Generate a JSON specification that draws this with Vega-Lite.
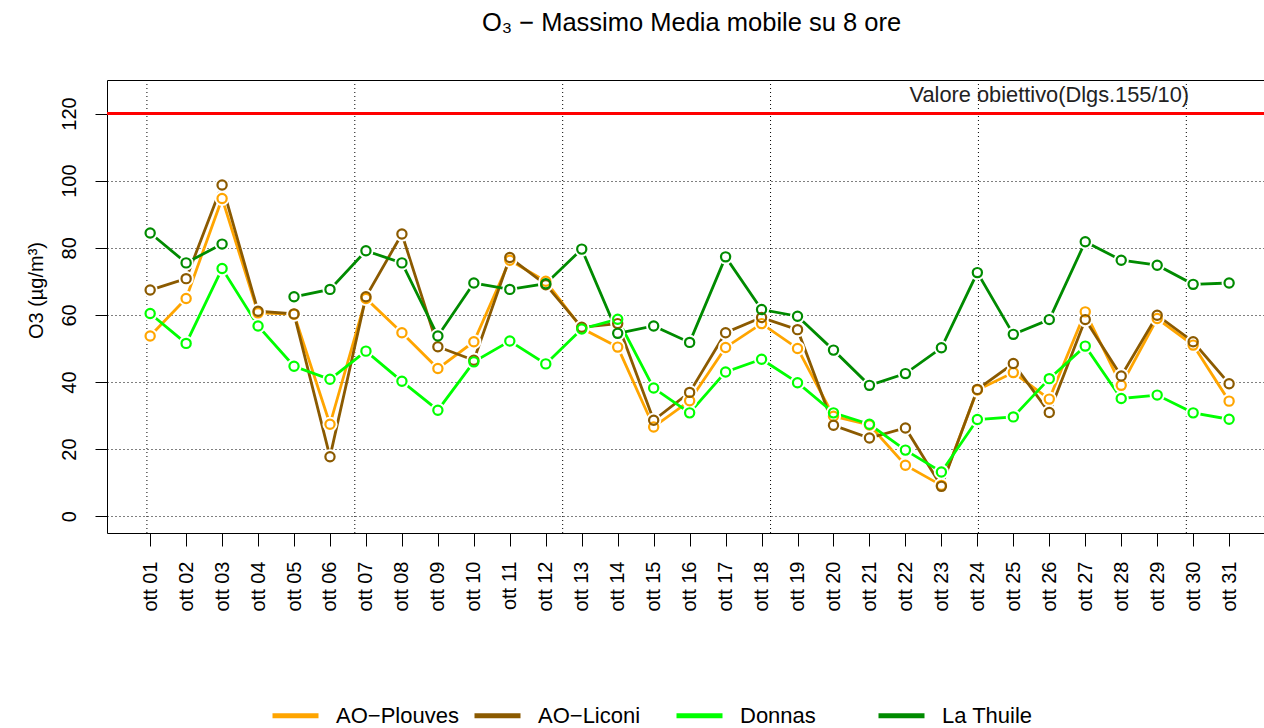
{
  "$schema": "https://vega.github.io/schema/vega-lite/v6.json",
  "autosize": "none",
  "width": 1157,
  "height": 453,
  "padding": {"left": 107, "top": 80, "right": 0, "bottom": 195},
  "background": "white",
  "title": {"text": "O₃ − Massimo Media mobile su 8 ore", "fontSize": 25.5, "font": "Liberation Sans", "fontWeight": "normal", "color": "black", "anchor": "middle", "frame": "group", "baseline": "alphabetic", "offset": 23, "dx": 6},
  "config": {"font": "Liberation Sans", "view": {"stroke": "black", "strokeWidth": 1}},
  "datasets": {
    "o3": [
      {"day":1,"station":"AO-Plouves","value":53.7},{"day":2,"station":"AO-Plouves","value":64.9},{"day":3,"station":"AO-Plouves","value":94.7},{"day":4,"station":"AO-Plouves","value":60.6},{"day":5,"station":"AO-Plouves","value":60.2},{"day":6,"station":"AO-Plouves","value":27.4},{"day":7,"station":"AO-Plouves","value":64.9},{"day":8,"station":"AO-Plouves","value":54.7},{"day":9,"station":"AO-Plouves","value":44.0},{"day":10,"station":"AO-Plouves","value":52.0},{"day":11,"station":"AO-Plouves","value":76.3},{"day":12,"station":"AO-Plouves","value":70.0},{"day":13,"station":"AO-Plouves","value":56.0},{"day":14,"station":"AO-Plouves","value":50.4},{"day":15,"station":"AO-Plouves","value":26.6},{"day":16,"station":"AO-Plouves","value":34.4},{"day":17,"station":"AO-Plouves","value":50.3},{"day":18,"station":"AO-Plouves","value":57.4},{"day":19,"station":"AO-Plouves","value":50.0},{"day":20,"station":"AO-Plouves","value":29.8},{"day":21,"station":"AO-Plouves","value":27.2},{"day":22,"station":"AO-Plouves","value":15.2},{"day":23,"station":"AO-Plouves","value":9.2},{"day":24,"station":"AO-Plouves","value":37.6},{"day":25,"station":"AO-Plouves","value":42.8},{"day":26,"station":"AO-Plouves","value":34.9},{"day":27,"station":"AO-Plouves","value":60.9},{"day":28,"station":"AO-Plouves","value":39.0},{"day":29,"station":"AO-Plouves","value":58.9},{"day":30,"station":"AO-Plouves","value":51.0},{"day":31,"station":"AO-Plouves","value":34.3},
      {"day":1,"station":"AO-Liconi","value":67.4},{"day":2,"station":"AO-Liconi","value":70.8},{"day":3,"station":"AO-Liconi","value":98.7},{"day":4,"station":"AO-Liconi","value":61.1},{"day":5,"station":"AO-Liconi","value":60.3},{"day":6,"station":"AO-Liconi","value":17.7},{"day":7,"station":"AO-Liconi","value":65.4},{"day":8,"station":"AO-Liconi","value":84.1},{"day":9,"station":"AO-Liconi","value":50.5},{"day":10,"station":"AO-Liconi","value":46.5},{"day":11,"station":"AO-Liconi","value":77.1},{"day":12,"station":"AO-Liconi","value":69.0},{"day":13,"station":"AO-Liconi","value":56.3},{"day":14,"station":"AO-Liconi","value":57.4},{"day":15,"station":"AO-Liconi","value":28.6},{"day":16,"station":"AO-Liconi","value":36.9},{"day":17,"station":"AO-Liconi","value":54.7},{"day":18,"station":"AO-Liconi","value":59.2},{"day":19,"station":"AO-Liconi","value":55.6},{"day":20,"station":"AO-Liconi","value":27.1},{"day":21,"station":"AO-Liconi","value":23.3},{"day":22,"station":"AO-Liconi","value":26.3},{"day":23,"station":"AO-Liconi","value":8.9},{"day":24,"station":"AO-Liconi","value":37.8},{"day":25,"station":"AO-Liconi","value":45.5},{"day":26,"station":"AO-Liconi","value":30.9},{"day":27,"station":"AO-Liconi","value":58.6},{"day":28,"station":"AO-Liconi","value":41.8},{"day":29,"station":"AO-Liconi","value":59.9},{"day":30,"station":"AO-Liconi","value":52.0},{"day":31,"station":"AO-Liconi","value":39.5},
      {"day":1,"station":"Donnas","value":60.4},{"day":2,"station":"Donnas","value":51.5},{"day":3,"station":"Donnas","value":73.8},{"day":4,"station":"Donnas","value":56.7},{"day":5,"station":"Donnas","value":44.7},{"day":6,"station":"Donnas","value":40.8},{"day":7,"station":"Donnas","value":49.2},{"day":8,"station":"Donnas","value":40.2},{"day":9,"station":"Donnas","value":31.6},{"day":10,"station":"Donnas","value":46.0},{"day":11,"station":"Donnas","value":52.2},{"day":12,"station":"Donnas","value":45.4},{"day":13,"station":"Donnas","value":55.8},{"day":14,"station":"Donnas","value":58.7},{"day":15,"station":"Donnas","value":38.2},{"day":16,"station":"Donnas","value":30.8},{"day":17,"station":"Donnas","value":43.0},{"day":18,"station":"Donnas","value":46.8},{"day":19,"station":"Donnas","value":39.8},{"day":20,"station":"Donnas","value":30.8},{"day":21,"station":"Donnas","value":27.4},{"day":22,"station":"Donnas","value":19.7},{"day":23,"station":"Donnas","value":13.2},{"day":24,"station":"Donnas","value":28.8},{"day":25,"station":"Donnas","value":29.6},{"day":26,"station":"Donnas","value":41.0},{"day":27,"station":"Donnas","value":50.7},{"day":28,"station":"Donnas","value":35.1},{"day":29,"station":"Donnas","value":36.1},{"day":30,"station":"Donnas","value":30.8},{"day":31,"station":"Donnas","value":28.9},
      {"day":1,"station":"La Thuile","value":84.4},{"day":2,"station":"La Thuile","value":75.5},{"day":3,"station":"La Thuile","value":81.1},{"day":4,"station":"La Thuile","value":null},{"day":5,"station":"La Thuile","value":65.4},{"day":6,"station":"La Thuile","value":67.6},{"day":7,"station":"La Thuile","value":79.1},{"day":8,"station":"La Thuile","value":75.5},{"day":9,"station":"La Thuile","value":53.7},{"day":10,"station":"La Thuile","value":69.5},{"day":11,"station":"La Thuile","value":67.6},{"day":12,"station":"La Thuile","value":69.3},{"day":13,"station":"La Thuile","value":79.6},{"day":14,"station":"La Thuile","value":54.5},{"day":15,"station":"La Thuile","value":56.7},{"day":16,"station":"La Thuile","value":51.8},{"day":17,"station":"La Thuile","value":77.3},{"day":18,"station":"La Thuile","value":61.6},{"day":19,"station":"La Thuile","value":59.6},{"day":20,"station":"La Thuile","value":49.5},{"day":21,"station":"La Thuile","value":39.0},{"day":22,"station":"La Thuile","value":42.5},{"day":23,"station":"La Thuile","value":50.2},{"day":24,"station":"La Thuile","value":72.6},{"day":25,"station":"La Thuile","value":54.2},{"day":26,"station":"La Thuile","value":58.6},{"day":27,"station":"La Thuile","value":81.8},{"day":28,"station":"La Thuile","value":76.3},{"day":29,"station":"La Thuile","value":74.8},{"day":30,"station":"La Thuile","value":69.1},{"day":31,"station":"La Thuile","value":69.5}
    ],
    "vgrid": [{"g":0.91},{"g":6.69},{"g":12.47},{"g":18.25},{"g":24.03},{"g":29.81}],
    "target": [{"label":"Valore obiettivo(Dlgs.155/10)","limit":120}]
  },
  "layer": [
    {
      "data": {"name": "vgrid"},
      "mark": {"type": "rule", "color": "black", "strokeWidth": 1, "strokeDash": [1, 3]},
      "encoding": {
        "x": {"field": "g", "type": "quantitative", "scale": {"domain": [-0.2, 31.97], "nice": false, "zero": false}}
      }
    },
    {
      "data": {"name": "target"},
      "mark": {"type": "rule", "color": "#ff0000", "strokeWidth": 3},
      "encoding": {
        "y": {"field": "limit", "type": "quantitative", "scale": {"domain": [-5, 130], "nice": false, "zero": false},
          "axis": {"values": [0, 20, 40, 60, 80, 100, 120], "tickCount": 10, "grid": true, "gridColor": "black", "gridDash": [1, 3], "gridOpacity": 1, "gridWidth": 1, "labelAngle": -90, "labelAlign": "center", "labelBaseline": "alphabetic", "labelFontSize": 20, "labelColor": "black", "labelPadding": 20, "tickSize": 12, "tickColor": "black", "domain": false, "title": "O3 (µg/m³)", "titleFontSize": 20, "titleFontWeight": "normal", "titleColor": "black", "titleAngle": -90, "titleBaseline": "alphabetic", "titleX": -65, "titleY": 210}}
      }
    },
    {
      "data": {"name": "target"},
      "mark": {"type": "text", "fontSize": 21.8, "color": "#222222", "align": "center", "baseline": "middle"},
      "encoding": {
        "text": {"field": "label"},
        "x": {"datum": 26.0, "type": "quantitative"},
        "y": {"datum": 125.5, "type": "quantitative"}
      }
    },
    {
      "data": {"name": "o3"},
      "mark": {"type": "line", "strokeWidth": 2.8, "invalid": "break-paths-filter-domains"},
      "encoding": {
        "x": {"field": "day", "type": "quantitative",
          "axis": {"values": [1,2,3,4,5,6,7,8,9,10,11,12,13,14,15,16,17,18,19,20,21,22,23,24,25,26,27,28,29,30,31], "tickCount": 40, "labelExpr": "'ott ' + (datum.value < 10 ? '0' : '') + datum.value", "labelAngle": -90, "labelAlign": "right", "labelBaseline": "middle", "labelFontSize": 20, "labelColor": "black", "labelPadding": 15, "tickSize": 13, "tickColor": "black", "tickWidth": 1, "domain": false, "grid": false, "title": null, "labelOverlap": false, "labelBound": false}},
        "y": {"field": "value", "type": "quantitative"},
        "color": {"field": "station", "type": "nominal",
          "scale": {"domain": ["AO-Plouves", "AO-Liconi", "Donnas", "La Thuile"], "range": ["#ffa500", "#8b5a00", "#00ff00", "#008b00"]},
          "legend": {"orient": "none", "legendX": 163, "legendY": 610, "direction": "horizontal", "columns": 4, "gridAlign": "all", "symbolType": "stroke", "symbolStrokeWidth": 5, "symbolSize": 2116, "labelFontSize": 22, "labelColor": "black", "labelOffset": 15, "columnPadding": 5, "labelLimit": 300, "title": null, "labelExpr": "replace(datum.label, '-', '−')"}}
      }
    },
    {
      "data": {"name": "o3"},
      "mark": {"type": "point", "filled": true, "color": "white", "size": 230, "opacity": 1, "strokeWidth": 0},
      "encoding": {
        "x": {"field": "day", "type": "quantitative"},
        "y": {"field": "value", "type": "quantitative"}
      }
    },
    {
      "data": {"name": "o3"},
      "mark": {"type": "point", "filled": false, "size": 85, "opacity": 1, "strokeWidth": 2.2},
      "encoding": {
        "x": {"field": "day", "type": "quantitative"},
        "y": {"field": "value", "type": "quantitative"},
        "color": {"field": "station", "type": "nominal", "legend": null}
      }
    }
  ]
}
